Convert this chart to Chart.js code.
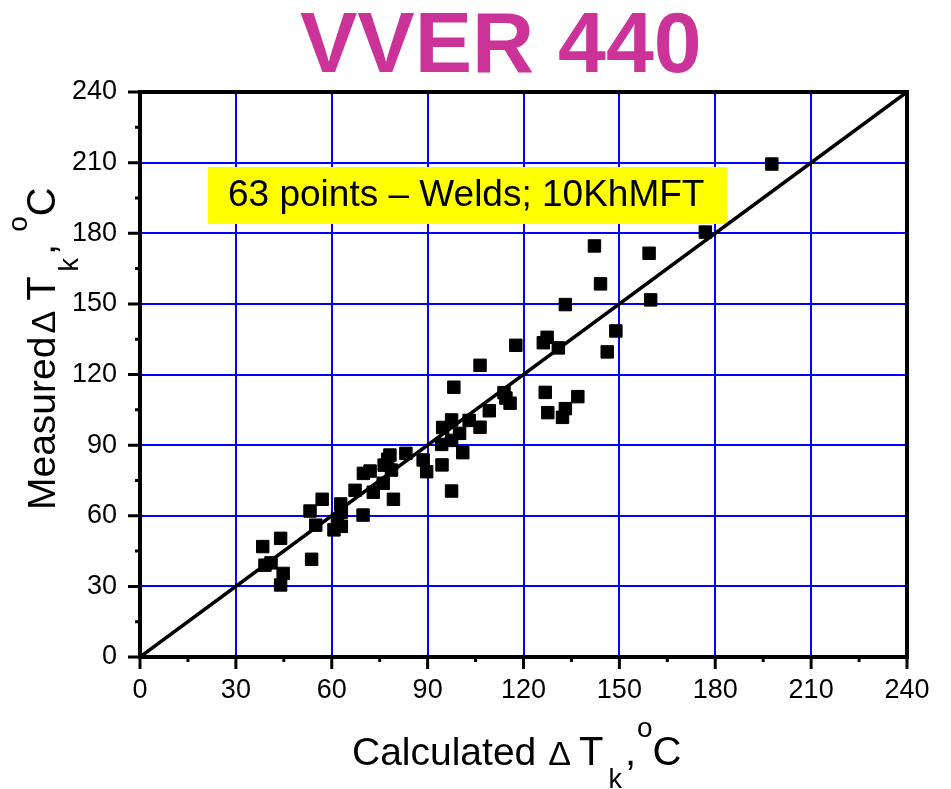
<!DOCTYPE html>
<html>
<head>
<meta charset="utf-8">
<title>VVER 440</title>
<script src="https://cdn.jsdelivr.net/npm/chart.js@4.4.1/dist/chart.umd.min.js"></script>
<style>
	html, body { margin: 0; padding: 0; background: #fff; }
	#wrap { width: 951px; height: 789px; }
</style>
</head>
<body>
<div id="wrap"><canvas id="myChart" width="951" height="789"></canvas></div>
<script>
// calculated vs measured shift of the transition temperature, welds 10KhMFT
const calcDT = [
	38.4, 39.1, 41.0, 44.0, 44.8, 44.0, 53.7, 53.2, 55.0, 57.0,
	60.7, 63.0, 61.8, 63.0, 62.8, 69.8, 67.3, 69.9, 72.0, 73.0,
	76.1, 76.4, 77.5, 78.2, 78.7, 79.3, 83.2, 88.6, 89.7, 94.4,
	94.7, 94.5, 97.5, 97.5, 97.5, 98.2, 100.0, 101.0, 103.0, 106.4,
	106.4, 109.3, 113.9, 115.8, 117.6, 114.5, 126.2, 127.4, 130.9, 133.1,
	126.8, 127.6, 133.1, 132.2, 137.0, 142.2, 144.1, 146.2, 148.9, 159.3,
	159.8, 176.9, 197.7
];
const measDT = [
	46.9, 39.0, 40.0, 50.4, 35.5, 30.6, 41.5, 62.0, 56.0, 67.0,
	54.0, 55.5, 58.5, 61.5, 65.0, 60.3, 70.8, 78.0, 79.0, 70.0,
	73.8, 81.5, 84.0, 85.8, 79.4, 67.0, 86.5, 83.7, 78.7, 90.3,
	97.5, 81.6, 100.7, 70.5, 92.0, 114.6, 95.0, 86.8, 100.5, 97.6,
	123.9, 104.6, 112.3, 107.8, 132.4, 110.0, 133.5, 135.8, 131.3, 149.7,
	112.4, 103.8, 105.5, 101.8, 110.6, 174.6, 158.5, 129.6, 138.5, 171.5,
	151.7, 180.5, 209.4
];
// 1:1 line
const lineX = [0, 240];
const lineY = [0, 240];
const axisMin = 0;
const axisMax = 240;
const labelStep = 30;
const minorStep = 15;
const noteText = "63 points \u2013 Welds; 10KhMFT";
const titleText = "VVER 440";

const points = calcDT.map((x, i) => ({ x: x, y: measDT[i] }));
const diag = lineX.map((x, i) => ({ x: x, y: lineY[i] }));

const tickFont = { family: "'Liberation Sans', Arial, sans-serif", size: 27 };

function gridColor(c) {
	const v = c.tick.value;
	if (v === axisMin || v === axisMax) return "rgba(0,0,0,0)";
	return v % labelStep === 0 ? "#0000ff" : "rgba(0,0,0,0)";
}

function tickLabel(v) {
	return v % labelStep === 0 ? String(v) : "";
}

// draws text pieces one after another, with sub/superscript offsets
function drawRun(c, parts, x, y) {
	parts.forEach((p) => {
		x += p.gap || 0;
		c.font = p.font;
		c.fillText(p.text, x, y + (p.dy || 0));
		x += c.measureText(p.text).width;
	});
}

const frame = {
	id: "frame",
	beforeDatasetsDraw(chart) {
		const c = chart.ctx;
		c.save();
		c.fillStyle = "#ffff00";
		c.fillRect(208, 167, 519, 57);
		c.fillStyle = "#000";
		c.font = "37px 'Liberation Sans', Arial, sans-serif";
		c.textBaseline = "alphabetic";
		c.fillText(noteText, 228, 206);
		c.restore();
	},
	afterDraw(chart) {
		const c = chart.ctx;
		const a = chart.chartArea;
		const xs = chart.scales.x;
		const ys = chart.scales.y;
		c.save();
		c.strokeStyle = "#000";
		c.lineWidth = 4;
		c.strokeRect(a.left, a.top, a.right - a.left, a.bottom - a.top);
		c.lineWidth = 3;
		c.beginPath();
		for (let v = axisMin; v <= axisMax; v += minorStep) {
			const len = v % labelStep === 0 ? 12 : 5;
			const py = ys.getPixelForValue(v);
			c.moveTo(a.left - len, py);
			c.lineTo(a.left, py);
			const px = xs.getPixelForValue(v);
			c.moveTo(px, a.bottom);
			c.lineTo(px, a.bottom + len);
		}
		c.stroke();

		// title
		c.fillStyle = "#cc3399";
		c.font = "bold 86px 'Liberation Sans', Arial, sans-serif";
		c.textBaseline = "alphabetic";
		c.fillText(titleText, 300, 72);

		// axis titles
		c.fillStyle = "#000";
		const f = "'Liberation Sans', Arial, sans-serif";
		drawRun(c, [
			{ text: "Calculated", font: "39px " + f },
			{ text: "\u0394", font: "34px " + f, gap: 12 },
			{ text: "T", font: "40px " + f, gap: 8 },
			{ text: "k", font: "27px " + f, dy: 23, gap: 5 },
			{ text: ",", font: "40px " + f, gap: 3 },
			{ text: "o", font: "28px " + f, dy: -28, gap: 1 },
			{ text: "C", font: "40px " + f, gap: 0 },
		], 352, 765);

		c.translate(55, 510);
		c.rotate(-Math.PI / 2);
		drawRun(c, [
			{ text: "Measured", font: "39px " + f },
			{ text: "\u0394", font: "34px " + f, gap: 3 },
			{ text: "T", font: "40px " + f, gap: 10 },
			{ text: "k", font: "27px " + f, dy: 23, gap: 5 },
			{ text: ",", font: "40px " + f, gap: 3 },
			{ text: "o", font: "28px " + f, dy: -28, gap: 12 },
			{ text: "C", font: "40px " + f, gap: 0 },
		], 0, 0);
		c.restore();
	},
};

const ctx = document.getElementById("myChart");
const myChart = new Chart(ctx, {
	type: "scatter",
	data: {
		datasets: [
			{
				label: "1:1",
				type: "line",
				data: diag,
				borderColor: "#000",
				borderWidth: 3.5,
				pointRadius: 0,
				fill: false,
			},
			{
				label: "welds",
				data: points,
				pointStyle: "rect",
				pointRadius: 8.8,
				borderWidth: 1,
				backgroundColor: "#000",
				borderColor: "#000",
			},
		],
	},
	options: {
		responsive: false,
		animation: false,
		layout: { padding: { left: 0, top: 92, right: 44, bottom: 0 } },
		plugins: {
			legend: { display: false },
			tooltip: { enabled: false },
		},
		scales: {
			x: {
				type: "linear",
				min: axisMin,
				max: axisMax,
				afterFit: (s) => { s.height = 132; },
				border: { display: false },
				grid: { color: gridColor, lineWidth: 2, drawTicks: false },
				ticks: {
					stepSize: minorStep,
					autoSkip: false,
					maxRotation: 0,
					padding: 17,
					color: "#000",
					font: tickFont,
					callback: tickLabel,
				},
			},
			y: {
				type: "linear",
				min: axisMin,
				max: axisMax,
				afterFit: (s) => { s.width = 140; },
				border: { display: false },
				grid: { color: gridColor, lineWidth: 2, drawTicks: false },
				ticks: {
					stepSize: minorStep,
					autoSkip: false,
					padding: 23,
					color: "#000",
					font: tickFont,
					callback: tickLabel,
				},
			},
		},
	},
	plugins: [frame],
});
</script>
</body>
</html>
